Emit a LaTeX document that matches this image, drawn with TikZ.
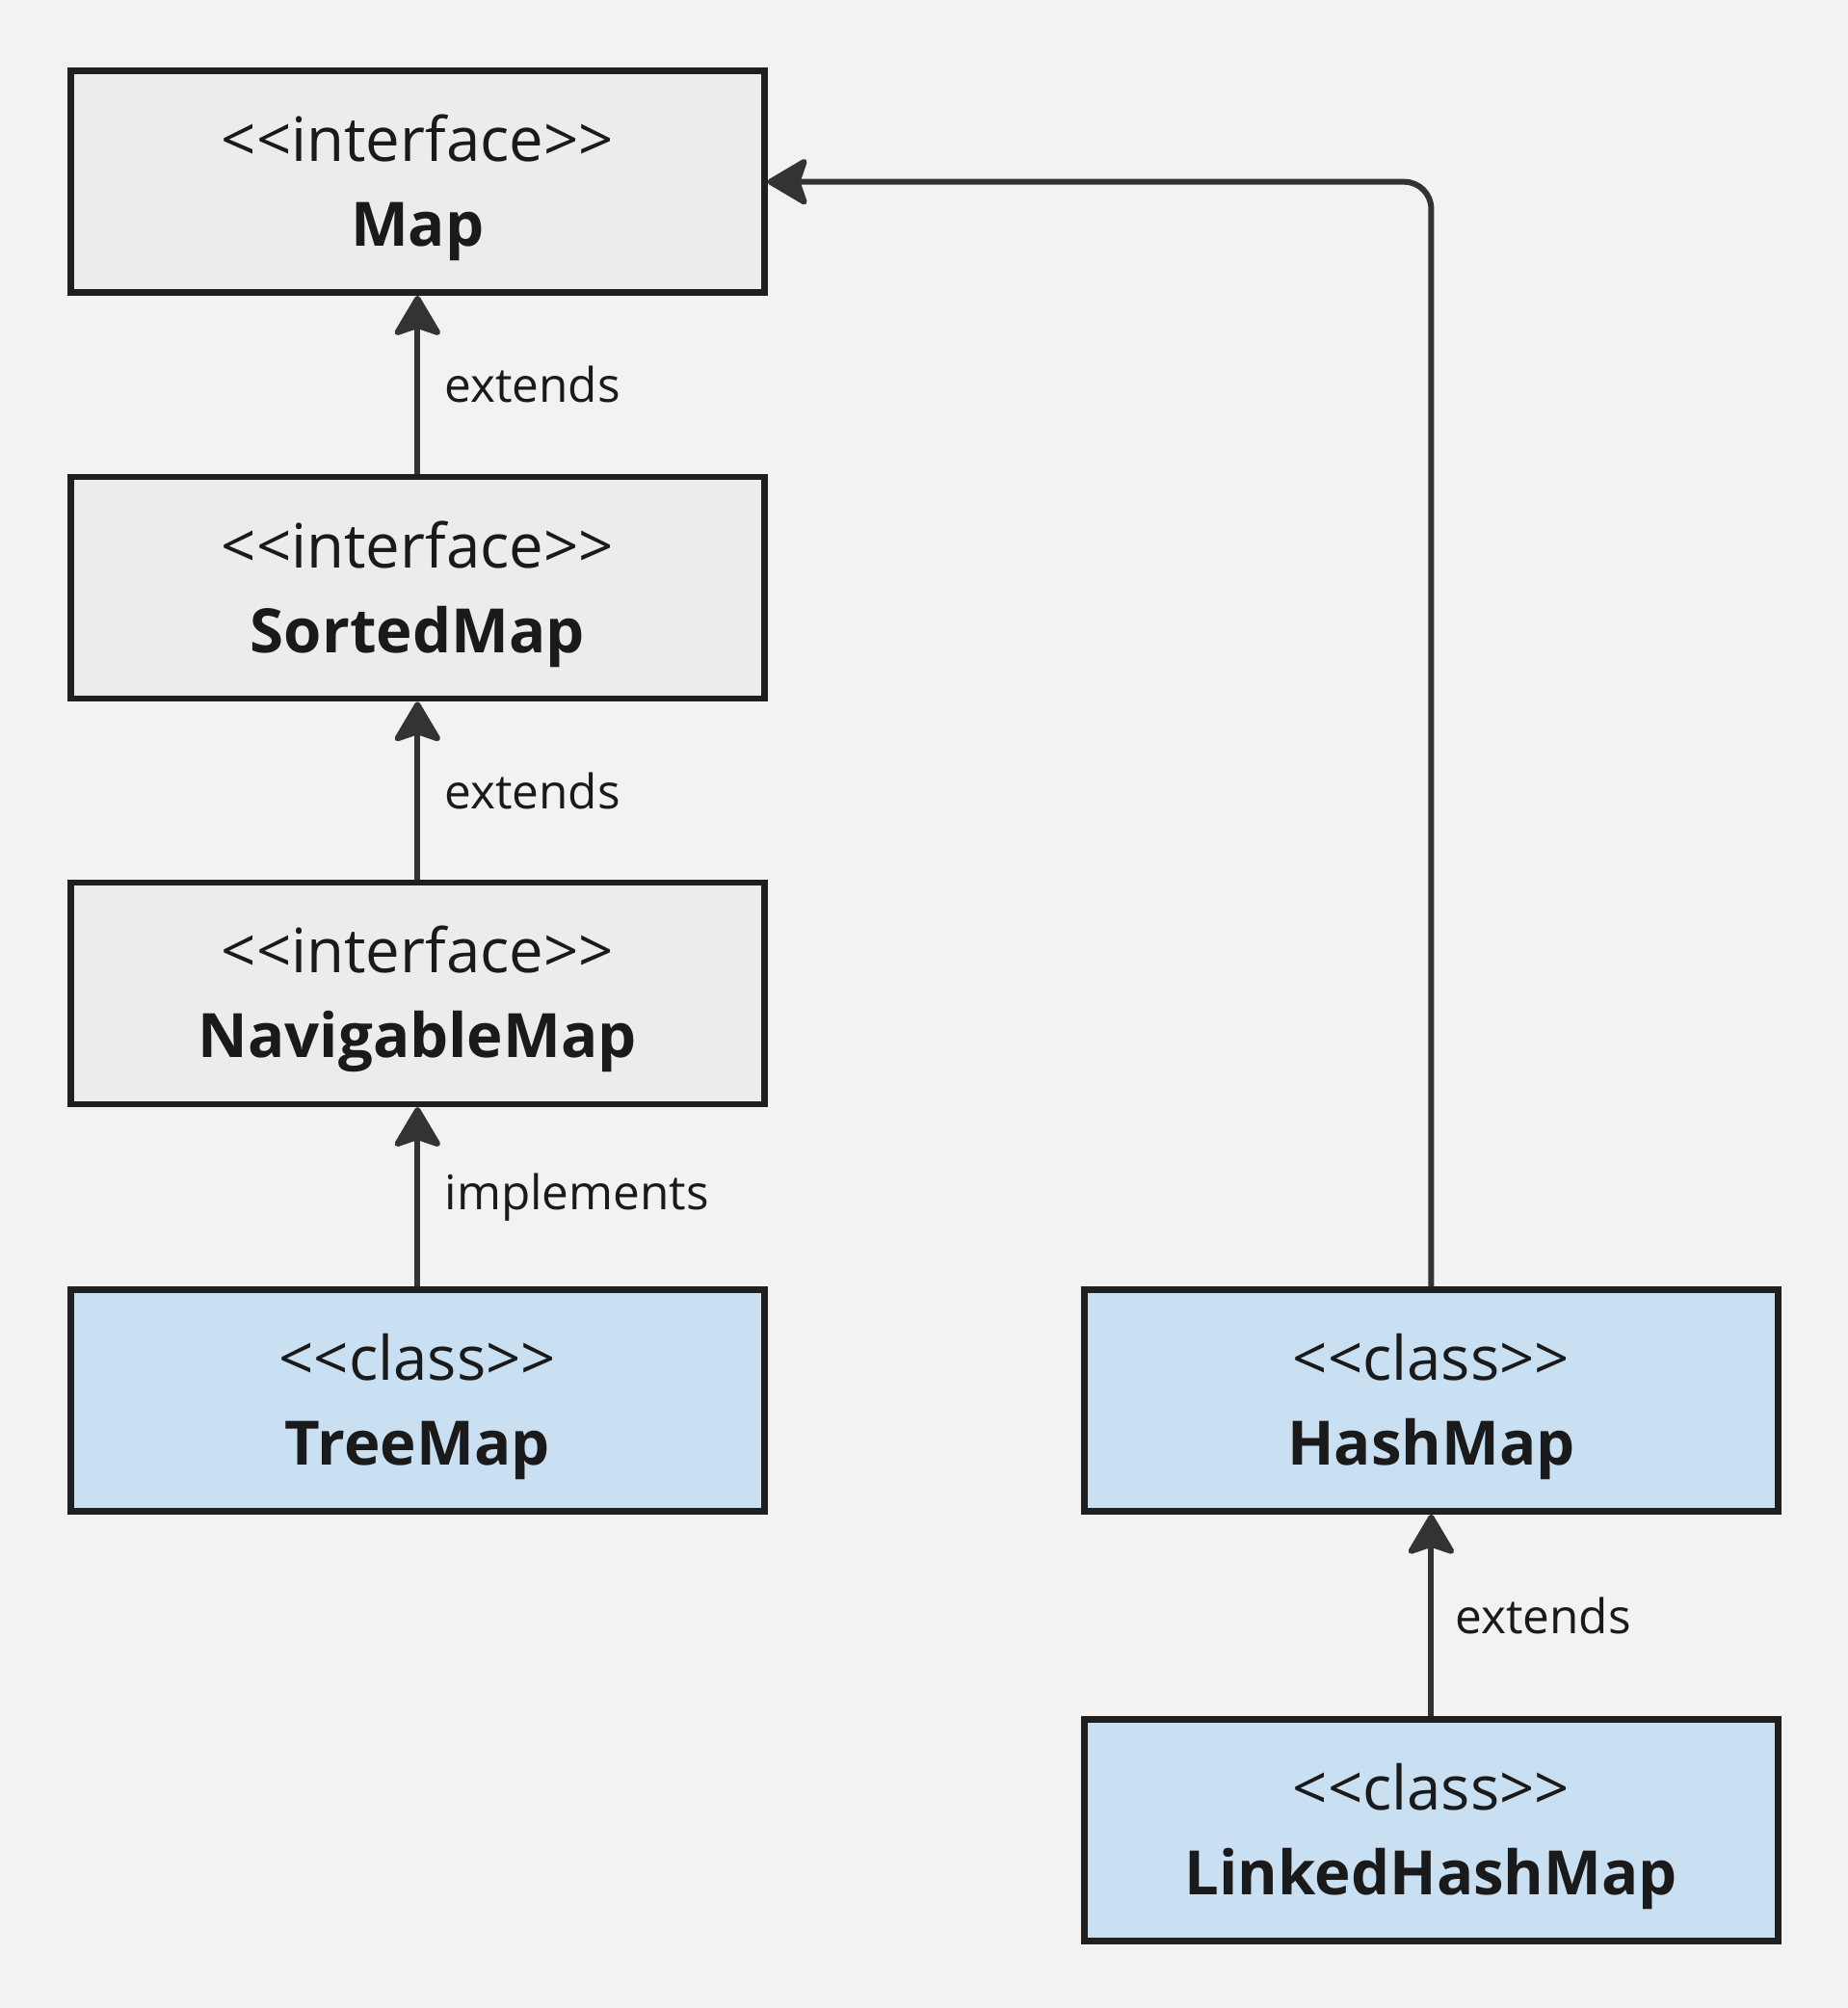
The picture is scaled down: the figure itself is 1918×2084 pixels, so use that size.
\documentclass[tikz,border=0pt]{standalone}
\usepackage{fontspec}
\setmainfont{Open Sans}
\usetikzlibrary{arrows.meta,calc}
\definecolor{bgc}{HTML}{F2F2F2}
\definecolor{ifill}{HTML}{ECECEC}
\definecolor{cfill}{HTML}{C9DFF2}
\definecolor{bordc}{HTML}{1F1F1F}
\definecolor{linec}{HTML}{333333}
\definecolor{txtc}{HTML}{1A1A1A}
\tikzset{
  x=1pt,y=1pt,
  umlbox/.style={draw=bordc,line width=6.5pt,minimum width=720pt,minimum height=230pt,inner sep=0pt},
  ibox/.style={umlbox,fill=ifill},
  cbox/.style={umlbox,fill=cfill},
  stereo/.style={anchor=base,inner sep=0pt,text=txtc,font=\fontsize{63.5}{76}\selectfont},
  cname/.style={anchor=base,inner sep=0pt,text=txtc,font=\fontsize{63.5}{76}\selectfont\bfseries},
  rel/.style={draw=linec,line width=6pt,-{Stealth[length=46pt,width=54pt,inset=9pt,round]}},
  rlabel/.style={anchor=west,inner sep=0pt,text=txtc,font=\fontsize{49.5}{60}\selectfont}
}
\begin{document}
\begin{tikzpicture}
\fill[bgc] (0,0) rectangle (1918,-2084);
\useasboundingbox (0,0) rectangle (1918,-2084);
% boxes
\node[ibox] (map) at (433.3,-188.7) {};
\node[ibox] (sorted) at (433.3,-610.1) {};
\node[ibox] (nav) at (433.3,-1030.8) {};
\node[cbox] (tree) at (433.3,-1453.5) {};
\node[cbox] (hash) at (1485.4,-1453.5) {};
\node[cbox] (linked) at (1485.4,-1899.4) {};
% texts
\foreach \b/\s/\n in {map/interface/Map,sorted/interface/SortedMap,nav/interface/NavigableMap,tree/class/TreeMap,hash/class/HashMap,linked/class/LinkedHashMap}{
  \node[stereo] (\b-st) at ($(\b.center)+(0,21)$) {<{}<\s>{}>};
  \node[cname] (\b-nm) at ($(\b.center)+(0,-67)$) {\n};
}
% connectors
\draw[rel] (sorted.north) -- (map.south) coordinate[midway] (m1);
\draw[rel] (nav.north) -- (sorted.south) coordinate[midway] (m2);
\draw[rel] (tree.north) -- (nav.south) coordinate[midway] (m3);
\draw[rel] (linked.north) -- (hash.south) coordinate[midway] (m4);
\draw[rel,rounded corners=28pt] (hash.north) |- (map.east);
% labels
\node[rlabel] (l1) at ($(m1)+(28,0)$) {extends};
\node[rlabel] (l2) at ($(m2)+(28,0)$) {extends};
\node[rlabel] (l3) at ($(m3)+(28,0)$) {implements};
\node[rlabel] (l4) at ($(m4)+(25,0)$) {extends};
\end{tikzpicture}
\end{document}
